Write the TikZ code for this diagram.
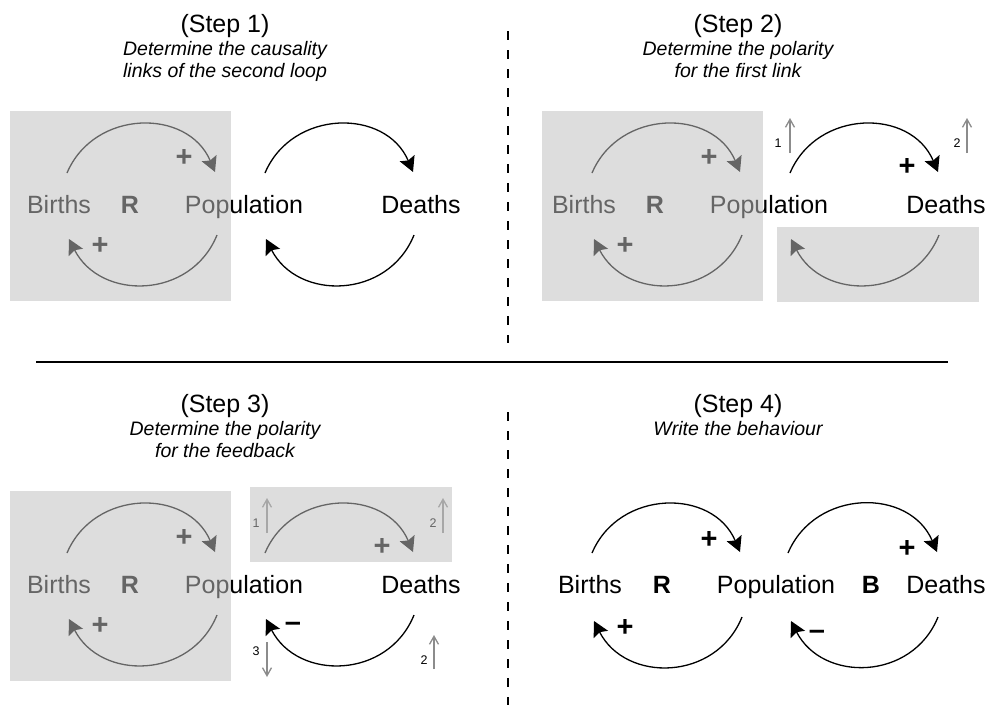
\documentclass[tikz,border=0pt]{standalone}
\usepackage{fontspec}
\setmainfont{Liberation Sans}
\usetikzlibrary{arrows.meta,positioning}

\tikzset{
  var/.style={font=\fontsize{25}{30}\selectfont,inner sep=0pt,anchor=base},
  tag/.style={var,font=\fontsize{25}{30}\selectfont\bfseries},
  sign/.style={font=\fontsize{29}{32}\selectfont\bfseries,inner sep=0pt},
  steptitle/.style={font=\fontsize{25}{30}\selectfont,inner sep=0pt},
  subtitle/.style={font=\fontsize{19.5}{22}\selectfont\itshape,inner sep=0pt,align=center},
  link/.style={line width=1.3pt,-{Stealth[length=15pt,width=16pt,inset=2.5pt]}},
  cue/.style={black!45,line width=1.3pt,-{Straight Barb[length=8pt,width=9pt]}},
  num/.style={font=\fontsize{12.5}{14}\selectfont,inner sep=0pt},
  veil/.style={fill=black!25,fill opacity=0.53},
}

\begin{document}
\begin{tikzpicture}[x=1pt,y=1pt]
  \useasboundingbox (0,0) rectangle (995,-705);

  %% Titles
  \node[steptitle] (t1) at (225,-26) {(Step 1)};
  \node[subtitle,below=3pt of t1] (s1) {Determine the causality\\links of the second loop};
  \node[steptitle] (t2) at (738,-26) {(Step 2)};
  \node[subtitle,below=3pt of t2] (s2) {Determine the polarity\\for the first link};
  \node[steptitle] (t3) at (225,-406) {(Step 3)};
  \node[subtitle,below=3pt of t3] (s3) {Determine the polarity\\for the feedback};
  \node[steptitle] (t4) at (738,-406) {(Step 4)};
  \node[subtitle,below=3pt of t4] (s4) {Write the behaviour};

  %% Dividers
  \draw[line width=1.3pt] (36,-362) -- (948,-362);
  \draw[line width=1.3pt,dash pattern=on 9pt off 10pt] (508,-31) -- (508,-343);
  \draw[line width=1.3pt,dash pattern=on 9pt off 10pt] (508,-412) -- (508,-705);

  %% Steps 1 to 3: both loops
  \foreach \s/\dx/\dy in {1/0/0,2/525/0,3/0/-380}{
    \begin{scope}[shift={(\dx,\dy)}]
      \node[var] (b\s) at (59,-213) {Births};
      \node[tag] (r\s) at (130,-213) {R};
      \node[var] (p\s) at (244,-213) {Population};
      \node[var] (d\s) at (421,-213) {Deaths};
      \node[sign] (q\s) at (184,-158) {+};
      \node[sign] (w\s) at (100,-246) {+};
    \end{scope}
    \draw[link] ([shift={(8,40)}]b\s.base) to[out=67,in=113,looseness=1.2] ([shift={(-29,41)}]p\s.base);
    \draw[link] ([shift={(-27,-22)}]p\s.base) to[out=-112,in=-63,looseness=1.2] ([shift={(10,-26)}]b\s.base);
    \draw[link] ([shift={(21,40)}]p\s.base) to[out=67,in=113,looseness=1.2] ([shift={(-8,41)}]d\s.base);
    \draw[link] ([shift={(-7,-22)}]d\s.base) to[out=-112,in=-63,looseness=1.2] ([shift={(22,-26)}]p\s.base);
  }

  %% Step 2: first link
  \node[sign] (q2b) at (907,-167) {+};
  \node[num] (n21) at (778,-143) {1};
  \coordinate (a21) at (790,-153);
  \coordinate (h21) at (790,-118);
  \draw[cue] (a21) -- (h21);
  \node[num] (n22) at (957,-143) {2};
  \coordinate (a22) at (967,-153);
  \coordinate (h22) at (967,-118);
  \draw[cue] (a22) -- (h22);

  %% Step 3: feedback
  \node[sign] (q3b) at (382,-547) {+};
  \node[sign] (w3b) at (293,-627) {--};
  \node[num] (n31) at (256,-523) {1};
  \coordinate (a31) at (267,-533);
  \coordinate (h31) at (267,-498);
  \draw[cue] (a31) -- (h31);
  \node[num] (n32) at (433,-523) {2};
  \coordinate (a32) at (443,-533);
  \coordinate (h32) at (443,-498);
  \draw[cue] (a32) -- (h32);
  \node[num] (n33) at (256,-651) {3};
  \coordinate (a33) at (267,-642);
  \coordinate (h33) at (267,-677);
  \draw[cue] (a33) -- (h33);
  \node[num] (n34) at (424,-660) {2};
  \coordinate (a34) at (434,-669);
  \coordinate (h34) at (434,-635);
  \draw[cue] (a34) -- (h34);

  %% Step 4: behaviour
  \node[var] (b4) at (590,-593) {Births};
  \node[tag] (r4) at (662,-593) {R};
  \node[var] (p4) at (776,-593) {Population};
  \node[tag] (g4) at (871,-593) {B};
  \node[var] (d4) at (946,-593) {Deaths};
  \node[sign] (q4) at (709,-540) {+};
  \node[sign] (w4) at (625,-628) {+};
  \node[sign] (q4b) at (907,-549) {+};
  \node[sign] (w4b) at (817,-635) {--};
  \draw[link] ([shift={(2,40)}]b4.base) to[out=67,in=113,looseness=1.2] ([shift={(-36,41)}]p4.base);
  \draw[link] ([shift={(-34,-24)}]p4.base) to[out=-112,in=-63,looseness=1.2] ([shift={(4,-28)}]b4.base);
  \draw[link] ([shift={(12,40)}]p4.base) to[out=67,in=113,looseness=1.2] ([shift={(-9,41)}]d4.base);
  \draw[link] ([shift={(-8,-24)}]d4.base) to[out=-112,in=-63,looseness=1.2] ([shift={(15,-28)}]p4.base);

  %% Grey veils over finished parts
  \fill[veil] (10,-111) rectangle (231,-301);
  \fill[veil] (542,-111) rectangle (763,-301);
  \fill[veil] (777,-227) rectangle (979,-302);
  \fill[veil] (10,-491) rectangle (231,-681);
  \fill[veil] (250,-487) rectangle (452,-562);
\end{tikzpicture}
\end{document}
